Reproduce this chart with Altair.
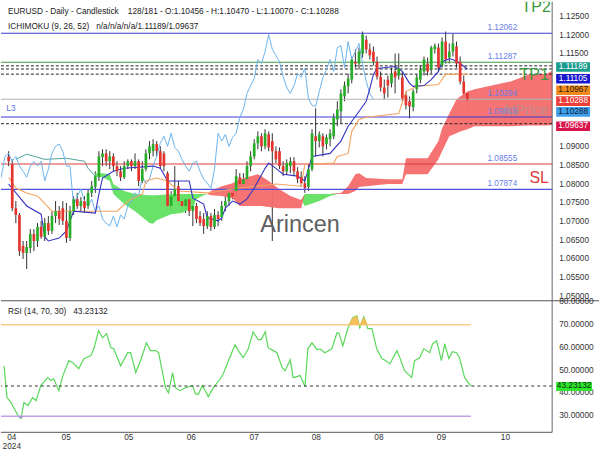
import altair as alt
import pandas as pd

FONT = "Liberation Sans"

# ---------------- candles (EURUSD daily) ----------------
opens = [1.0876,1.0855,1.0737,1.0719,1.0636,1.0617,1.0630,1.0668,1.0649,1.0687,
         1.0660,1.0697,1.0676,1.0716,1.0729,1.0737,1.0703,1.0657,1.0729,1.0761,
         1.0743,1.0756,1.0743,1.0778,1.0794,1.0820,1.0874,1.0884,1.0863,1.0876,
         1.0850,1.0836,1.0820,1.0850,1.0863,1.0850,1.0863,1.0810,1.0842,1.0884,
         1.0890,1.0909,1.0890,1.0884,1.0831,1.0743,1.0769,1.0796,1.0756,1.0743,
         1.0761,1.0729,1.0743,1.0716,1.0708,1.0689,1.0716,1.0687,1.0719,1.0713,
         1.0743,1.0756,1.0778,1.0783,1.0820,1.0802,1.0815,1.0850,1.0876,1.0911,
         1.0930,1.0903,1.0935,1.0917,1.0890,1.0890,1.0850,1.0836,1.0850,1.0863,
         1.0836,1.0820,1.0804,1.0794,1.0842,1.0930,1.0917,1.0930,1.0909,1.0922,
         1.0930,1.0975,1.0997,1.1037,1.1064,1.1082,1.1130,1.1125,1.1152,1.1189,
         1.1163,1.1157,1.1130,1.1090,1.1061,1.1082,1.1072,1.1104,1.1093,1.1088,
         1.1040,1.1024,1.1008,1.1056,1.1082,1.1104,1.1125,1.1109,1.1163,1.1168,
         1.1120,1.1184,1.1141,1.1157,1.1171,1.1130,1.1077,1.10456]
closes = [1.0863,1.0737,1.0719,1.0622,1.0617,1.0633,1.0668,1.0649,1.0687,1.0660,
          1.0697,1.0676,1.0716,1.0729,1.0708,1.0703,1.0657,1.0729,1.0761,1.0743,
          1.0756,1.0737,1.0778,1.0796,1.0823,1.0876,1.0884,1.0863,1.0876,1.0850,
          1.0836,1.0820,1.0850,1.0863,1.0850,1.0863,1.0810,1.0842,1.0884,1.0903,
          1.0909,1.0890,1.0850,1.0850,1.0743,1.0769,1.0788,1.0756,1.0743,1.0761,
          1.0729,1.0743,1.0708,1.0697,1.0689,1.0716,1.0687,1.0719,1.0708,1.0743,
          1.0756,1.0778,1.0769,1.0823,1.0802,1.0815,1.0850,1.0876,1.0911,1.0930,
          1.0903,1.0938,1.0900,1.0890,1.0868,1.0850,1.0836,1.0858,1.0863,1.0836,
          1.0815,1.0804,1.0791,1.0842,1.0938,1.0917,1.0935,1.0903,1.0927,1.0938,
          1.0981,1.1002,1.1045,1.1066,1.1085,1.1136,1.1125,1.1157,1.1203,1.1163,
          1.1147,1.1130,1.1090,1.1061,1.1045,1.1066,1.1098,1.1088,1.1112,1.1032,
          1.1013,1.1010,1.1050,1.1088,1.1109,1.1136,1.1104,1.1168,1.1173,1.1114,
          1.1184,1.1136,1.1157,1.1179,1.1125,1.1077,1.1045,1.10288]
highs = [1.0890,1.0868,1.0756,1.0724,1.0649,1.0649,1.0681,1.0681,1.0697,1.0703,
         1.0711,1.0716,1.0729,1.0756,1.0743,1.0756,1.0751,1.0743,1.0769,1.0778,
         1.0767,1.0769,1.0788,1.0810,1.0836,1.0890,1.0895,1.0895,1.0890,1.0884,
         1.0863,1.0850,1.0863,1.0868,1.0868,1.0884,1.0868,1.0863,1.0895,1.0917,
         1.0922,1.0917,1.0903,1.0890,1.0836,1.0783,1.0850,1.0810,1.0767,1.0769,
         1.0772,1.0756,1.0751,1.0729,1.0724,1.0729,1.0724,1.0735,1.0729,1.0756,
         1.0769,1.0788,1.0794,1.0842,1.0831,1.0831,1.0863,1.0890,1.0922,1.0943,
         1.0938,1.0949,1.0943,1.0938,1.0903,1.0900,1.0863,1.0868,1.0874,1.0874,
         1.0847,1.0836,1.0823,1.0855,1.0949,1.1005,1.0943,1.0938,1.0935,1.0949,
         1.0991,1.1024,1.1056,1.1077,1.1098,1.1144,1.1163,1.1168,1.1211,1.1200,
         1.1179,1.1171,1.1144,1.1104,1.1082,1.1093,1.1114,1.1152,1.1152,1.1104,
         1.1050,1.1037,1.1056,1.1096,1.1120,1.1144,1.1141,1.1173,1.1179,1.1179,
         1.1195,1.1211,1.1179,1.1205,1.1184,1.1144,1.1093,1.10470]
lows = [1.0850,1.0729,1.0697,1.0609,1.0601,1.0574,1.0617,1.0622,1.0633,1.0655,
        1.0649,1.0665,1.0668,1.0697,1.0692,1.0692,1.0644,1.0649,1.0719,1.0735,
        1.0729,1.0724,1.0735,1.0767,1.0778,1.0810,1.0850,1.0850,1.0842,1.0836,
        1.0823,1.0810,1.0815,1.0842,1.0836,1.0842,1.0796,1.0804,1.0836,1.0868,
        1.0876,1.0876,1.0842,1.0836,1.0735,1.0729,1.0756,1.0743,1.0729,1.0724,
        1.0716,1.0689,1.0697,1.0689,1.0668,1.0681,1.0676,1.0681,1.0689,1.0703,
        1.0729,1.0743,1.0761,1.0769,1.0788,1.0794,1.0804,1.0836,1.0868,1.0895,
        1.0890,1.0895,1.0890,1.0649,1.0858,1.0842,1.0823,1.0826,1.0831,1.0826,
        1.0804,1.0794,1.0778,1.0783,1.0836,1.0876,1.0900,1.0876,1.0895,1.0903,
        1.0922,1.0957,1.0965,1.1024,1.1045,1.1072,1.1114,1.1109,1.1141,1.1152,
        1.1136,1.1120,1.1082,1.1050,1.1029,1.1034,1.1061,1.1045,1.1082,1.1024,
        1.1002,1.0978,1.0997,1.1045,1.1072,1.1093,1.1093,1.1098,1.1152,1.1104,
        1.1114,1.1125,1.1125,1.1144,1.1114,1.1069,1.1032,1.10070]

# ---------------- ichimoku ----------------
tenkan_idx = [0,5,9,10,11,14,16,18,24,25,26,29,32,40,42,44,50,51,54,55,
              58,59,60,62,64,66,68,71,72,74,76,80,82,83,84,89,92,94,96,99,
              100,101,102,107,109,111,112,115,117,119,120,122,123,125,127]
tenkan_val = [1.0802,1.0743,1.0721,1.0660,1.0649,1.0657,1.0676,1.0729,1.0724,1.0775,
              1.0818,1.0836,1.0844,1.0850,1.0844,1.0810,1.0810,1.0764,1.0748,1.0711,
              1.0703,1.0711,1.0737,1.0756,1.0748,1.0762,1.0791,1.0844,1.0858,1.0844,
              1.0828,1.0823,1.0810,1.0842,1.0876,1.0884,1.0917,1.0957,1.0983,1.1024,
              1.1058,1.1096,1.1112,1.1117,1.1104,1.1072,1.1064,1.1066,1.1082,1.1104,
              1.1130,1.1138,1.1136,1.1125,1.11105]
kijun_idx = [0,2,5,8,12,30,33,37,38,41,44,47,55,64,74,81,82,90,91,94,
             95,97,99,108,110,113,119,121,127]
kijun_val = [1.0820,1.0791,1.0778,1.0770,1.0729,1.0729,1.0756,1.0775,1.0810,1.0818,
             1.0810,1.0783,1.0778,1.0791,1.0802,1.0796,1.0855,1.0858,1.0876,1.0884,
             1.0943,1.0975,1.0981,1.0991,1.1050,1.1064,1.1069,1.1096,1.10967]
cloud_idx = [2,5,10,16,21,22,24,26,28,29,32,35,39,40,41,45,48,51,52,54,
             55,56,59,62,64,67,69,70,72,75,78,81,82,86,89,92,94,96,97,99,
             105,109,110,116,119,120,122,124,125,127,129,135,139,144,149,153]
span_a = [1.0868,1.0882,1.0868,1.0871,1.0863,1.0844,1.0823,1.0820,1.0810,1.0775,
          1.0748,1.0729,1.0697,1.0695,1.0705,1.0721,1.0724,1.0737,1.0762,1.0772,
          1.0775,1.0783,1.0796,1.0804,1.0815,1.0823,1.0828,1.0823,1.0810,1.0788,
          1.0770,1.0759,1.0743,1.0756,1.0770,1.0778,1.0796,1.0828,1.0831,1.0818,
          1.0815,1.0815,1.0871,1.0871,1.0917,1.0951,1.0991,1.1029,1.1037,1.1050,
          1.1056,1.1069,1.1077,1.1096,1.1098,1.1119]
span_b = [None,None,None,None,None,None,1.0831,1.0831,1.0828,1.0802,
          1.0783,1.0775,1.0772,1.0772,1.0772,1.0775,1.0775,1.0775,1.0775,1.0775,
          1.0775,1.0772,1.0770,1.0764,1.0743,1.0743,1.0743,1.0743,1.0740,1.0737,
          1.0737,1.0737,1.0775,1.0775,1.0775,1.0775,1.0775,1.0783,1.0794,1.0796,
          1.0802,1.0802,1.0828,1.0828,1.0868,1.0890,1.0930,1.0938,1.0943,1.0949,
          1.0957,1.0957,1.0957,1.0959,1.0959,1.0964]

# ---------------- RSI ----------------
rsi_idx = [0.1,0.9,2.0,3.9,4.7,5.5,6.6,7.9,8.8,10.1,12.0,12.8,13.6,15.0,16.1,17.7,18.8,20.4,21.8,23.7,
           24.5,25.8,26.9,28.0,29.1,29.9,31.8,33.7,34.5,35.9,37.2,38.8,39.9,41.3,42.1,43.2,44.0,44.8,45.9,46.7,
           48.0,49.4,51.3,52.1,52.9,54.0,54.8,55.6,57.0,58.9,59.7,61.1,62.9,63.8,65.1,66.5,67.8,69.2,70.0,71.1,
           71.9,73.3,74.3,75.7,76.5,77.9,78.7,80.6,81.9,82.7,83.8,85.2,86.0,87.3,89.2,90.6,91.1,92.2,93.6,94.9,
           96.0,96.8,97.9,99.0,100.1,101.4,102.8,103.9,105.0,106.9,107.7,109.0,110.9,111.7,113.1,114.2,115.8,116.6,117.7,119.0,
           119.9,121.0,122.0,123.1,123.9,125.3,127.0]
rsi_val = [52.1,38.2,36.0,30.3,29.0,36.0,34.7,38.2,36.8,43.4,46.9,45.6,46.4,41.2,47.8,54.3,53.4,50.8,55.2,56.5,
           59.5,67.4,64.3,66.1,60.0,59.5,52.1,57.8,57.8,49.1,54.3,62.1,58.7,58.7,57.8,49.1,42.5,40.3,49.1,42.5,
           41.2,42.5,43.4,39.9,39.5,43.4,41.2,38.6,42.5,46.4,48.6,54.3,61.3,58.7,55.6,59.5,66.9,63.5,63.5,66.9,
           60.0,58.7,57.8,51.2,49.9,54.7,46.9,47.8,43.0,59.5,62.1,59.1,59.5,57.8,59.5,66.5,66.5,60.8,68.7,73.1,
           73.9,68.7,73.5,68.3,68.3,59.5,55.2,54.3,53.0,58.7,55.6,49.9,46.9,54.3,55.6,59.5,57.8,61.7,63.0,54.3,
           61.7,55.2,58.2,57.8,55.6,46.9,43.23132]

# ---------------- axis labels / levels ----------------
month_pos = [2.2, 17.0, 34.0, 51.0, 68.1, 85.0, 102.0, 119.0, 136.4]
month_lbl = ["04", "05", "05", "06", "07", "08", "08", "09", "10"]
year_lbl = "2024"
price_ticks = [1.050, 1.055, 1.060, 1.065, 1.070, 1.075, 1.080, 1.085, 1.090,
               1.095, 1.100, 1.105, 1.110, 1.115, 1.120, 1.125]
price_tick_hidden = [1.095, 1.100, 1.105, 1.110]   # covered by the value tags
rsi_ticks = [30, 40, 50, 60, 70, 80]

level_vals = [1.12062, 1.11287, 1.10294, 1.09816, 1.08555, 1.07874]
level_cols = ["#3b3bd2", "#3c9a3c", "#b4b4b4", "#3b3bd2", "#dd3a3a", "#5252e0"]
dashed_vals = [1.11189, 1.11105, 1.10967, 1.09637]

tag_txt = ["1.11189", "1.11105", "1.10967", "1.10288", "1.10288", "1.09637"]
tag_bg = ["#199c8e", "#1818cc", "#f08a1e", "#ea3d35", "#3f9fec", "#d8144a"]
tag_fg = ["#ffffff", "#ffffff", "#2a1a00", "#ffffff", "#0c1c30", "#ffffff"]

rsi_last = "43.23132"

# ---------------- layout constants ----------------
W, HM, HR = 553, 300, 132
XDOM = [-0.73, 149.1]
YDOM = [1.04887, 1.12909]
RDOM = [23.0, 80.5]
GREEN, RED, WICK = "#27ad27", "#e3342f", "#333333"
GRID = "#e9e9e9"
AXC = "#666666"
LBL = "#333333"

xs = alt.Scale(domain=XDOM, nice=False, zero=False)
ys = alt.Scale(domain=YDOM, nice=False, zero=False)
rs = alt.Scale(domain=RDOM, nice=False, zero=False)

candles = pd.DataFrame(dict(i=list(range(len(closes))), o=opens, h=highs, l=lows, c=closes))
candles["dir"] = ["up" if c >= o else "down" for o, c in zip(opens, closes)]


def xq(field):
    return alt.X(field, type="quantitative", scale=xs, axis=None)


def yq(field):
    return alt.Y(field, type="quantitative", scale=ys, axis=None)


def rq(field):
    return alt.Y(field, type="quantitative", scale=rs, axis=None)


def note(txt, x, y, size=8.3, color="#222", align="left", baseline="middle", clip=False, opacity=1.0):
    return alt.Chart(pd.DataFrame({"t": [txt]})).mark_text(
        align=align, baseline=baseline, fontSize=size, font=FONT, color=color,
        clip=clip, opacity=opacity).encode(x=alt.value(x), y=alt.value(y), text="t:N")


grid_x = alt.Axis(values=month_pos, labels=False, ticks=False, domain=False, grid=True,
                  gridColor=GRID, title=None)
grid_y_main = alt.Axis(values=price_ticks, labels=False, ticks=False, domain=False, grid=True,
                       gridColor=GRID, title=None)
grid_y_rsi = alt.Axis(values=rsi_ticks, labels=False, ticks=False, domain=False, grid=True,
                      gridColor=GRID, title=None)

# ---------------- main panel ----------------
wicks = alt.Chart(candles).mark_rule(color=WICK, strokeWidth=1).encode(
    x=alt.X("i:Q", scale=xs, axis=grid_x),
    y=alt.Y("l:Q", scale=ys, axis=grid_y_main),
    y2="h:Q")
bodies = alt.Chart(candles).mark_bar(size=2.7).encode(
    x=xq("i"), y=yq("o"), y2="c:Q",
    color=alt.Color("dir:N", scale=alt.Scale(domain=["up", "down"], range=[GREEN, RED]), legend=None))

cloud = pd.DataFrame({"i": cloud_idx, "a": span_a, "b": span_b})
cfill = cloud.dropna().copy()
cfill["top"] = cfill[["a", "b"]].max(axis=1)
green_cloud = alt.Chart(cfill).mark_area(color="#62e062", opacity=0.95, clip=True).encode(
    x=xq("i"), y=yq("top"), y2="a:Q")
red_cloud = alt.Chart(cfill).mark_area(color="#f46c6c", opacity=0.95, clip=True).encode(
    x=xq("i"), y=yq("top"), y2="b:Q")
span_a_early = alt.Chart(cloud[cloud["i"] <= 24]).mark_line(color="#4fa39a", strokeWidth=1).encode(
    x=xq("i"), y=yq("a"))

lv = pd.DataFrame({"v": level_vals, "col": level_cols})
level_lines = alt.Chart(lv).mark_rule(strokeWidth=1.1).encode(
    y=yq("v"), color=alt.Color("col:N", scale=None))
level_text = alt.Chart(pd.DataFrame({"v": level_vals, "t": [f"{v:.5f}" for v in level_vals]})).mark_text(
    align="center", baseline="bottom", dy=-1.5, fontSize=8.3, font=FONT, color="#6a80e6").encode(
    x=alt.value(503), y=yq("v"), text="t:N")
dash_lines = alt.Chart(pd.DataFrame({"v": dashed_vals})).mark_rule(
    color="#222", strokeWidth=1, strokeDash=[3, 2]).encode(y=yq("v"))

chikou = alt.Chart(candles).transform_calculate(ci="datum.i - 26").mark_line(
    color="#6cb4ee", strokeWidth=1, clip=True).encode(x=xq("ci"), y=yq("c"))
kijun = alt.Chart(pd.DataFrame({"i": kijun_idx, "v": kijun_val})).mark_line(
    color="#f4a460", strokeWidth=1.1).encode(x=xq("i"), y=yq("v"))
tenkan = alt.Chart(pd.DataFrame({"i": tenkan_idx, "v": tenkan_val})).mark_line(
    color="#3434c4", strokeWidth=1.1).encode(x=xq("i"), y=yq("v"))

# right price axis (drawn through the y scale)
pt = pd.DataFrame({"v": [p for p in price_ticks if p not in price_tick_hidden]})
pt["t"] = [f"{v:.5f}" for v in pt["v"]]
price_labels = alt.Chart(pt).mark_text(align="left", baseline="middle", fontSize=8.3, font=FONT,
                                       color=LBL).encode(x=alt.value(W + 7), y=yq("v"), text="t:N")
main_domain = alt.Chart(pd.DataFrame({"t": [0]})).mark_rule(color=AXC, strokeWidth=1).encode(
    x=alt.value(W), y=alt.value(0), y2=alt.value(HM))

NB = "\u00a0"
header1 = note("EURUSD - Daily - Candlestick" + NB * 4 + "128/181 - O:1.10456 - H:1.10470 - L:1.10070 - C:1.10288", 7, 10)
header2 = note("ICHIMOKU (9, 26, 52)" + NB * 3 + "n/a/n/a/n/a/1.11189/1.09637", 7, 25)

annots = [
    note("Arincen", 300, 224, size=23.5, color="#606060", align="center"),
    note("AtPrice", 526, 110, size=14.5, color="#9a9a9a", align="center", opacity=0.6),
    note("TP1", 535, 78.3, size=16, color="#3c9a3c", align="center", baseline="alphabetic"),
    note("TP2", 537, 10, size=16, color="#3c9a3c", align="center", baseline="alphabetic", clip=True),
    note("SL", 540, 181.7, size=16, color="#dd3a3a", align="center", baseline="alphabetic"),
    note("L3", 10, 108, size=8.3, color="#5a6ee0", align="center"),
]

tag_centers = [65.5, 77.2, 88.8, 99.7, 110.5, 125.0]
tags = []
for t, bg, fg, yc in zip(tag_txt, tag_bg, tag_fg, tag_centers):
    tags.append(alt.Chart(pd.DataFrame({"t": [t]})).mark_rect(color=bg).encode(
        x=alt.value(557), x2=alt.value(591), y=alt.value(yc - 4.8), y2=alt.value(yc + 4.8)))
    tags.append(note(t, 574, yc, color=fg, align="center"))

main = alt.layer(wicks, green_cloud, red_cloud, span_a_early, level_lines, dash_lines,
                 chikou, kijun, tenkan, bodies, level_text, header1, header2,
                 *annots, price_labels, main_domain, *tags).properties(width=W, height=HM)

# ---------------- RSI panel ----------------
rsi_df = pd.DataFrame({"i": rsi_idx, "r": rsi_val})
rsi_df["ob"] = rsi_df["r"].clip(lower=70)
rsi_df["os"] = rsi_df["r"].clip(upper=30)
rsi_df["l70"] = 70
rsi_df["l30"] = 30

rsi_line = alt.Chart(rsi_df).mark_line(color="#5ad85a", strokeWidth=1.2).encode(
    x=alt.X("i:Q", scale=xs, axis=grid_x), y=alt.Y("r:Q", scale=rs, axis=grid_y_rsi))
ob_fill = alt.Chart(rsi_df).mark_area(color="#f5b84a", opacity=0.9).encode(
    x=xq("i"), y=rq("ob"), y2="l70:Q")
os_fill = alt.Chart(rsi_df).mark_area(color="#a585e0", opacity=0.9).encode(
    x=xq("i"), y=rq("os"), y2="l30:Q")
bands = pd.DataFrame({"x0": [XDOM[0], XDOM[0]], "x1": [rsi_idx[-1], rsi_idx[-1]],
                      "v": [70, 30], "col": ["#f9cd8a", "#c2a0ea"]})
band_lines = alt.Chart(bands).mark_rule(strokeWidth=1.6).encode(
    x=xq("x0"), x2="x1:Q", y=rq("v"), color=alt.Color("col:N", scale=None))
last_line = alt.Chart(pd.DataFrame({"v": [rsi_val[-1]]})).mark_rule(
    color="#333", strokeWidth=1, strokeDash=[3, 3]).encode(y=rq("v"))
sep = alt.Chart(pd.DataFrame({"t": [0]})).mark_rule(color="#555", strokeWidth=1.2).encode(
    x=alt.value(0), x2=alt.value(600), y=alt.value(0))

rt = pd.DataFrame({"v": rsi_ticks})
rt["t"] = [f"{v:.5f}" for v in rt["v"]]
rsi_labels = alt.Chart(rt).mark_text(align="left", baseline="middle", fontSize=8.3, font=FONT,
                                     color=LBL).encode(x=alt.value(W + 7), y=rq("v"), text="t:N")
rsi_domain = alt.Chart(pd.DataFrame({"t": [0]})).mark_rule(color=AXC, strokeWidth=1).encode(
    x=alt.value(W), y=alt.value(0), y2=alt.value(HR))
x_domain = alt.Chart(pd.DataFrame({"t": [0]})).mark_rule(color="#555", strokeWidth=1).encode(
    x=alt.value(0), x2=alt.value(W), y=alt.value(HR))
mt = pd.DataFrame({"p": month_pos, "t": month_lbl})
month_labels = alt.Chart(mt).mark_text(align="center", baseline="middle", fontSize=8.3, font=FONT,
                                       color=LBL).encode(x=xq("p"), y=alt.value(HR + 5.5), text="t:N")
year_label = alt.Chart(pd.DataFrame({"p": [month_pos[0]], "t": [year_lbl]})).mark_text(
    align="center", baseline="middle", fontSize=8.3, font=FONT, color=LBL).encode(
    x=xq("p"), y=alt.value(HR + 14.5), text="t:N")

rsi_tag = alt.Chart(pd.DataFrame({"t": [rsi_last]})).mark_rect(color="#2ee62e").encode(
    x=alt.value(557), x2=alt.value(593), y=alt.value(81.5), y2=alt.value(90.5))
rsi_tag_txt = note(rsi_last, 575, 86, color="#0a2a0a", align="center")
rsi_title = note("RSI (14, 70, 30)" + NB * 3 + rsi_last, 7, 11)

rsi = alt.layer(rsi_line, band_lines, ob_fill, os_fill, last_line, sep, rsi_domain, x_domain,
                rsi_labels, month_labels, year_label,
                rsi_tag, rsi_tag_txt, rsi_title).properties(width=W, height=HR)

chart = alt.vconcat(main, rsi, spacing=0, bounds="flush").properties(padding=0).configure(
    font=FONT, background="white", view=alt.ViewConfig(stroke=None))

chart.save("out.html", embed_options={"renderer": "svg", "actions": False})
